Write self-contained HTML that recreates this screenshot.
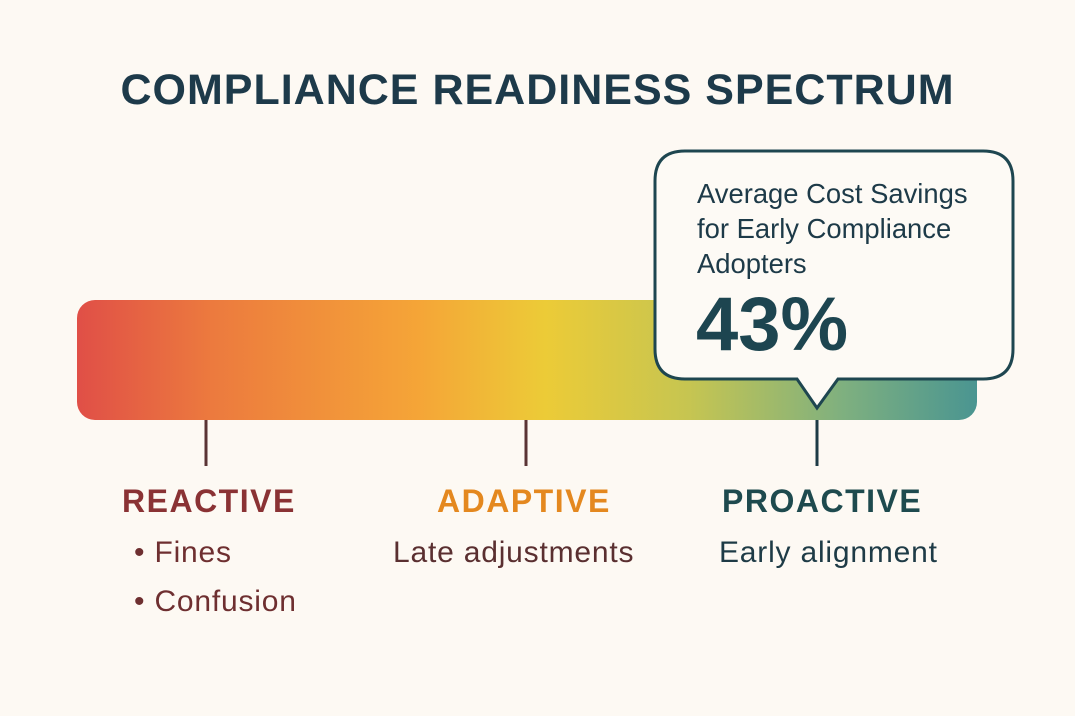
<!DOCTYPE html>
<html><head><meta charset="utf-8"><style>
body{margin:0;width:1075px;height:716px;background:#fdf9f3;font-family:"Liberation Sans",sans-serif;overflow:hidden;position:relative}
.t{position:absolute;white-space:nowrap}
</style></head><body>
<svg width="1075" height="716" style="position:absolute;left:0;top:0">
<defs><linearGradient id="g" x1="0" x2="1">
<stop offset="0" stop-color="#e04f47"/><stop offset="0.15" stop-color="#ec7a3e"/>
<stop offset="0.38" stop-color="#f5a537"/><stop offset="0.52" stop-color="#eccb37"/>
<stop offset="0.68" stop-color="#c6c551"/><stop offset="0.85" stop-color="#7fb07f"/>
<stop offset="1" stop-color="#4a9591"/></linearGradient></defs>
<rect x="77" y="300" width="900" height="120" rx="18" fill="url(#g)"/>
<g stroke="#5a3434" stroke-width="3"><line x1="206" y1="420" x2="206" y2="466"/><line x1="526" y1="420" x2="526" y2="466"/><line x1="817" y1="420" x2="817" y2="466" stroke="#1e3b46"/></g>
<path d="M685 151 H983 Q1013 151 1013 181 V349 Q1013 379 983 379 H838 L817 408 L797 379 H685 Q655 379 655 349 V181 Q655 151 685 151 Z" fill="#fdfaf5" stroke="#1e4650" stroke-width="3"/>
</svg>
<div class="t" style="left:0;width:1075px;text-align:center;top:66px;font-size:43px;font-weight:bold;letter-spacing:1px;color:#1d3a4a">COMPLIANCE READINESS SPECTRUM</div>
<div class="t" style="left:697px;top:176px;font-size:27.4px;line-height:35px;color:#1d3a48">Average Cost Savings<br>for Early Compliance<br>Adopters</div>
<div class="t" style="left:696px;top:281px;font-size:76px;font-weight:bold;color:#1d4550">43%</div>
<div class="t" style="left:122px;top:483px;font-size:32px;font-weight:bold;letter-spacing:1.5px;color:#8a3234">REACTIVE</div>
<div class="t" style="left:437px;top:483px;font-size:32px;font-weight:bold;letter-spacing:1.5px;color:#e4881f">ADAPTIVE</div>
<div class="t" style="left:722px;top:483px;font-size:32px;font-weight:bold;letter-spacing:1.5px;color:#1e4a4e">PROACTIVE</div>
<div class="t" style="left:134px;top:528px;font-size:30px;line-height:49px;letter-spacing:0.8px;color:#6e2f30">• Fines<br>• Confusion</div>
<div class="t" style="left:393px;top:528px;font-size:30px;line-height:49px;letter-spacing:0.8px;color:#5a2f30">Late adjustments</div>
<div class="t" style="left:719px;top:528px;font-size:30px;line-height:49px;letter-spacing:0.8px;color:#1e3b46">Early alignment</div>
</body></html>
